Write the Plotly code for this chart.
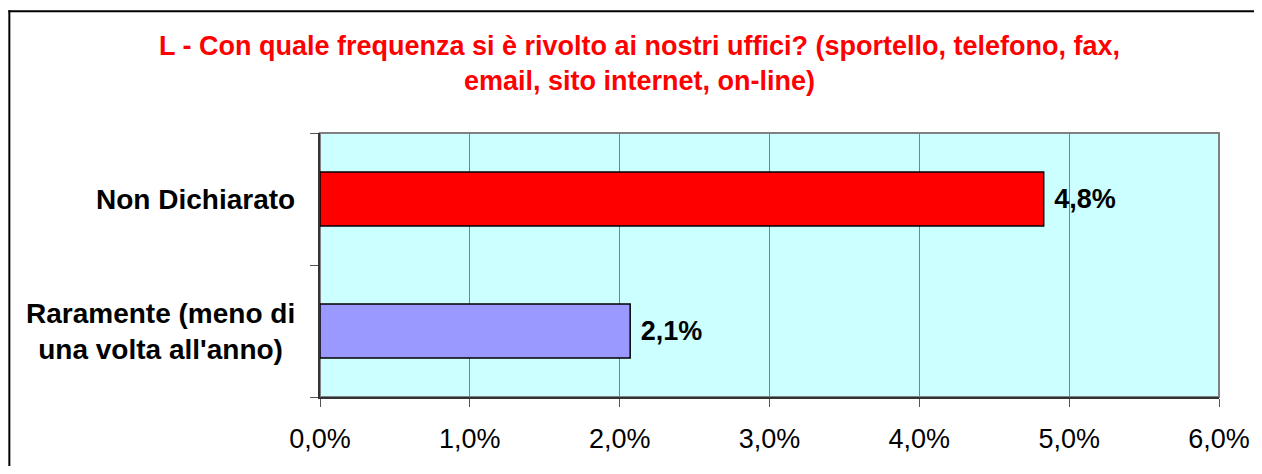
import plotly.graph_objects as go

categories = ["Raramente (meno di<br>una volta all'anno)", "Non Dichiarato"]
values = [0.0207, 0.0483]
bar_colors = ["#9999FF", "#FF0000"]
tick_vals = [0, 0.01, 0.02, 0.03, 0.04, 0.05, 0.06]
title_text = "L - Con quale frequenza si è rivolto ai nostri uffici? (sportello, telefono, fax,<br>email, sito internet, on-line)"

# figure is placed at (8, 8) in the page
OFF = 8
W, H = 1262 - OFF, 474 - 2 * OFF
L, R, T, B = 320 - OFF, 1220 - OFF, 133 - OFF, 401 - OFF
pw, ph = R - L, B - T

def px_x(x):  # screen px -> paper
    return (x - OFF - L) / pw

def px_y(y):
    return (B - (y - OFF)) / ph

FONT = "Liberation Sans, Arial, sans-serif"

fig = go.Figure()
fig.add_trace(go.Bar(
    y=categories, x=values, orientation="h",
    marker=dict(color=bar_colors, line=dict(color="black", width=1.5)),
    width=0.41,
    text=[" " + f"{v*100:.1f}%".replace(".", ",") for v in values],
    textposition="outside",
    textfont=dict(family=FONT, size=27, color="black", weight="bold"),
    cliponaxis=False,
    hoverinfo="skip",
))

fig.update_layout(
    width=W, height=H,
    margin=dict(l=L, r=W - R, t=T, b=H - B, pad=0),
    paper_bgcolor="white",
    plot_bgcolor="#CCFFFF",
    separators=",.",
    showlegend=False,
    font=dict(family=FONT, color="black"),
)

fig.update_xaxes(
    range=[0, 0.06], tickvals=tick_vals, tickformat=".1%",
    showgrid=True, gridcolor="#808080", gridwidth=1,
    showline=True, linecolor="#333333", linewidth=1.5,
    ticks="outside", ticklen=8, tickcolor="#555555", tickwidth=1,
    ticklabelstandoff=9,
    tickfont=dict(family=FONT, size=27, color="black"),
    zeroline=False, fixedrange=True,
)
fig.update_yaxes(
    categoryorder="array", categoryarray=categories,
    showticklabels=False, tickson="boundaries",
    ticks="outside", ticklen=8, tickcolor="#555555", tickwidth=1,
    showgrid=False,
    showline=True, linecolor="#333333", linewidth=1.5,
    zeroline=False, fixedrange=True,
)

# plot area border (gray top/right)
fig.add_shape(type="rect", xref="paper", yref="paper", x0=0, x1=1, y0=0, y1=1,
              line=dict(color="#808080", width=2), layer="below")

# category labels, centered multi-line
for c in categories:
    fig.add_annotation(
        x=px_x(297), xref="paper", xanchor="right",
        y=c, yref="y", yanchor="middle",
        text=c, showarrow=False, align="center",
        font=dict(family=FONT, size=28, color="black", weight="bold"),
    )

# title
fig.add_annotation(
    x=px_x(640), xref="paper", xanchor="center",
    y=px_y(27), yref="paper", yanchor="top",
    text=title_text, showarrow=False, align="center",
    font=dict(family=FONT, size=27, color="#FF0000", weight="bold"),
)

# outer chart border (left and top edges visible)
fig.add_shape(type="line", xref="paper", yref="paper",
              x0=px_x(9), x1=px_x(9), y0=px_y(480), y1=px_y(8.5),
              line=dict(color="black", width=2))
fig.add_shape(type="line", xref="paper", yref="paper",
              x0=px_x(8), x1=px_x(1270), y0=px_y(9.5), y1=px_y(9.5),
              line=dict(color="black", width=2))

fig.write_html("out.html")
